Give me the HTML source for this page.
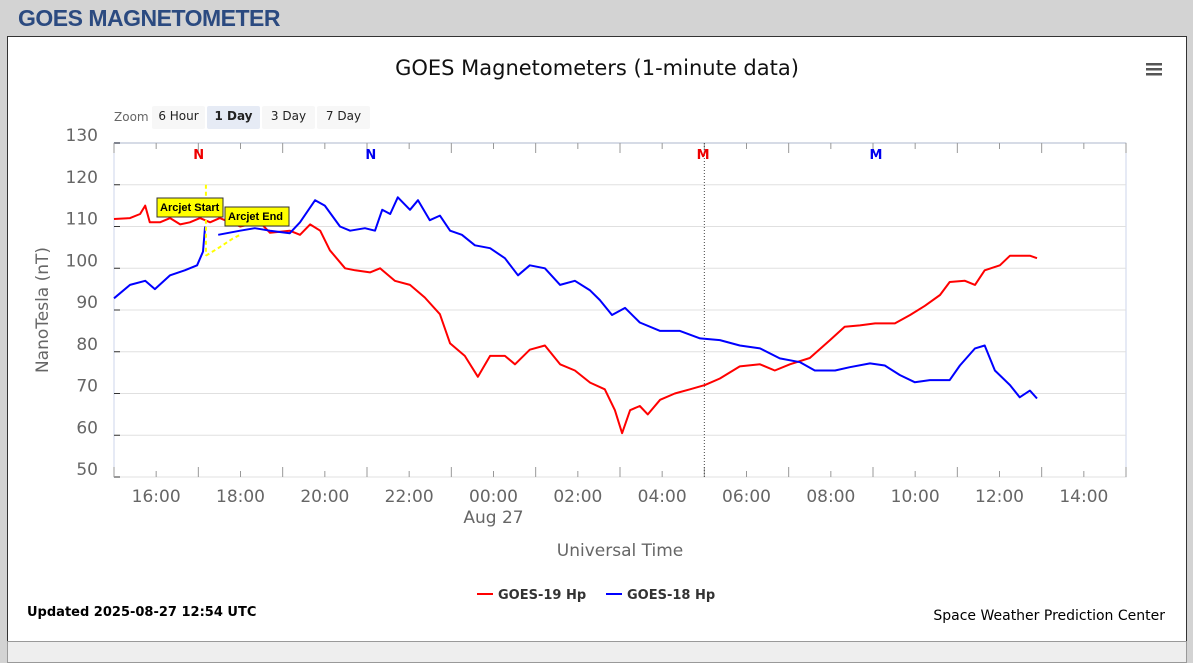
<!DOCTYPE html>
<html><head><meta charset="utf-8"><style>
body{margin:0;width:1193px;height:649px;background:#d3d3d3;font-family:"Liberation Sans",sans-serif;overflow:hidden;position:relative}
#hdr{position:absolute;left:18px;top:5px;font-size:23px;font-weight:bold;color:#2b4a80;letter-spacing:-0.5px}
#panel{position:absolute;left:7px;top:36px;width:1178px;height:604px;background:#fff;border:1px solid #333}
#bottom{position:absolute;left:7px;top:641px;width:1178px;height:20px;background:#eee;border:1px solid #999}
svg{position:absolute;left:0;top:0}
</style></head><body>
<div id="hdr">GOES MAGNETOMETER</div>
<div id="panel"></div>
<div id="bottom"></div>
<svg id="chart" width="1193" height="649" font-family="DejaVu Sans, sans-serif"></svg>
<script>
const yTicks=[50,60,70,80,90,100,110,120,130];
const xTickLabels=["16:00","18:00","20:00","22:00","00:00","02:00","04:00","06:00","08:00","10:00","12:00","14:00"];
const xTickHours=[1,3,5,7,9,11,13,15,17,19,21,23];
const redT=[0,.38,.62,.74,.85,1.09,1.33,1.57,1.80,2.04,2.28,2.51,2.99,3.46,3.70,4.17,4.41,4.65,4.89,5.12,5.48,5.72,6.07,6.31,6.66,7.02,7.37,7.73,7.97,8.32,8.63,8.92,9.27,9.51,9.86,10.22,10.58,10.93,11.29,11.64,11.88,12.05,12.24,12.47,12.66,12.95,13.30,13.66,14.01,14.37,14.84,15.32,15.67,16.03,16.50,16.98,17.33,17.69,18.05,18.52,18.88,19.23,19.59,19.82,20.18,20.42,20.65,21.01,21.25,21.48,21.72,21.89];
const redV=[111.8,112,113,115,111,111,112,110.5,111,112,111,112,110,111,108.5,109,108,110.5,109,104.3,100,99.5,99,100,97,96,93,89,82,79,74,79,79,77,80.5,81.5,77,75.5,72.6,71,66,60.5,66,67,65,68.5,70,71,72,73.6,76.5,77,75.5,77,78.5,82.8,86,86.3,86.8,86.8,88.8,91,93.6,96.7,97,96,99.5,100.7,103,103,103,102.4];
const blueT1=[0,.38,.74,.97,1.33,1.68,1.97,2.11,2.16];
const blueV1=[92.8,96,97,95,98.3,99.5,100.7,104,110];
const blueT2=[2.47,2.99,3.34,3.70,4.17,4.41,4.77,5.00,5.36,5.60,5.95,6.19,6.36,6.55,6.73,7.02,7.21,7.49,7.73,7.97,8.25,8.56,8.92,9.27,9.58,9.86,10.22,10.58,10.93,11.29,11.52,11.81,12.12,12.47,12.95,13.42,13.90,14.37,14.84,15.32,15.79,16.27,16.62,17.10,17.45,17.93,18.28,18.64,18.99,19.35,19.82,20.06,20.42,20.65,20.89,21.25,21.48,21.72,21.89];
const blueV2=[108,109,109.6,109,108.4,111,116.3,115,110,109,109.6,109,114,113,117,114,116.3,111.5,112.6,109,108,105.5,104.8,102.4,98.3,100.7,100,96,97,94.7,92.4,88.8,90.5,87,85,85,83.2,82.8,81.5,80.8,78.4,77.5,75.5,75.5,76.3,77.2,76.7,74.4,72.7,73.2,73.2,76.7,80.8,81.5,75.5,72,69.1,70.7,68.8];
const yellowT=[2.18,2.5,2.8,2.99];
const yellowV=[103,105,107,108];
const markerLabels=["N","N","M","M"];
const markerHours=[2.01,6.09,13.97,18.07];
const markerColors=["#e00","#00e","#e00","#00e"];

const L=114,R=1126,T=143,B=477;
const x=h=>L+h*(R-L)/24;
const y=v=>B-(v-50)*(B-T)/80;
const svg=document.getElementById('chart');
const NS='http://www.w3.org/2000/svg';
function mk(tag,attrs,parent){const e=document.createElementNS(NS,tag);for(const k in attrs)e.setAttribute(k,attrs[k]);(parent||svg).appendChild(e);return e;}
function txt(s,attrs){const e=mk('text',attrs);e.textContent=s;return e;}

let t=txt("GOES Magnetometers (1-minute data)",{x:597,y:75,"text-anchor":"middle","font-size":21,fill:"#111"});

for(let i=0;i<3;i++){const r=mk('rect',{x:1146,y:63+i*5,width:16,height:2.5,fill:"#555"});}
t=txt("Zoom",{x:114,y:121,"font-size":12,fill:"#666"});
const btns=[["6 Hour",152,53],["1 Day",207,53],["3 Day",262,53],["7 Day",317,53]];
btns.forEach((b,i)=>{const g=mk('g',{});
mk('rect',{x:b[1],y:106,width:b[2],height:23,fill:i==1?"#e6ebf5":"#f7f7f7",rx:2},g);
const tt=mk('text',{x:b[1]+b[2]/2,y:120,"text-anchor":"middle","font-size":12,fill:"#222","font-weight":i==1?"bold":"normal"},g);tt.textContent=b[0];});
mk('rect',{x:L,y:T,width:R-L,height:B-T,fill:"none",stroke:"#ccd6eb"});
mk('line',{x1:L,y1:T,x2:R,y2:T,stroke:"#ccd6eb","stroke-width":2});
yTicks.forEach(v=>{const l=mk('line',{x1:L,y1:y(v),x2:R,y2:y(v),stroke:"#e0e0e0"});
mk('line',{x1:L,y1:y(v),x2:L+6,y2:y(v),stroke:"#333"});
const tt=txt(String(v),{x:98,y:y(v)-2,"text-anchor":"end","font-size":17,fill:"#666"});});
for(let h=0;h<=24;h++){mk('line',{x1:x(h),y1:T,x2:x(h),y2:T+(h%2?6:10),stroke:"#999"});mk('line',{x1:x(h),y1:B,x2:x(h),y2:B-(h%2?6:10),stroke:"#999"});}
xTickLabels.forEach((s,i)=>{const tt=txt(s,{x:x(xTickHours[i]),y:502,"text-anchor":"middle","font-size":17,fill:"#666"});});
t=txt("Aug 27",{x:x(9),y:523,"text-anchor":"middle","font-size":17,fill:"#666"});
t=txt("Universal Time",{x:620,y:556,"text-anchor":"middle","font-size":17,fill:"#666"});
t=txt("NanoTesla (nT)",{x:48,y:310,"text-anchor":"middle","font-size":17,fill:"#666",transform:"rotate(-90 48 310)"});
mk('line',{x1:x(14),y1:T,x2:x(14),y2:B,stroke:"#444","stroke-dasharray":"1,2"});
markerLabels.forEach((s,i)=>{const tt=txt(s,{x:x(markerHours[i]),y:159,"text-anchor":"middle","font-size":13,"font-weight":"bold",fill:markerColors[i]});});
function line(ts,vs,color,name,extra){const d=ts.map((h,i)=>(i?'L':'M')+x(h).toFixed(1)+','+y(vs[i]).toFixed(1)).join('');const p=mk('path',Object.assign({d:d,fill:"none",stroke:color,"stroke-width":2,"stroke-linejoin":"round"},extra||{}));}
line(redT,redV,"#f00","goes-19-line");
line(blueT1,blueV1,"#00f","goes-18-line");
line(blueT2,blueV2,"#00f","goes-18-line-after-arcjet");
line(yellowT,yellowV,"#ff0","arcjet-gap-line",{"stroke-dasharray":"4,3"});
mk('line',{x1:x(2.18),y1:y(120),x2:x(2.18),y2:y(103),stroke:"#ff0","stroke-width":2,"stroke-dasharray":"4,3"});
[["Arcjet Start",157,198,66],["Arcjet End",225,207,64]].forEach(a=>{const g=mk('g',{});
mk('rect',{x:a[1],y:a[2],width:a[3],height:19,fill:"#ff0",stroke:"#333"},g);
const tt=mk('text',{x:a[1]+3,y:a[2]+13,"font-size":11,"font-weight":"bold",fill:"#000","font-family":"Liberation Sans, sans-serif"},g);tt.textContent=a[0];});
[["GOES-19 Hp","#f00",477],["GOES-18 Hp","#00f",606]].forEach(l=>{const g=mk('g',{});
mk('line',{x1:l[2],y1:594,x2:l[2]+16,y2:594,stroke:l[1],"stroke-width":2},g);
const tt=mk('text',{x:l[2]+21,y:599,"font-size":13,"font-weight":"bold",fill:"#333"},g);tt.textContent=l[0];});
t=txt("Updated 2025-08-27 12:54 UTC",{x:27,y:616,"font-size":13,"font-weight":"bold",fill:"#000"});
t=txt("Space Weather Prediction Center",{x:1165,y:620,"text-anchor":"end","font-size":14,fill:"#000"});
</script>
</body></html>
